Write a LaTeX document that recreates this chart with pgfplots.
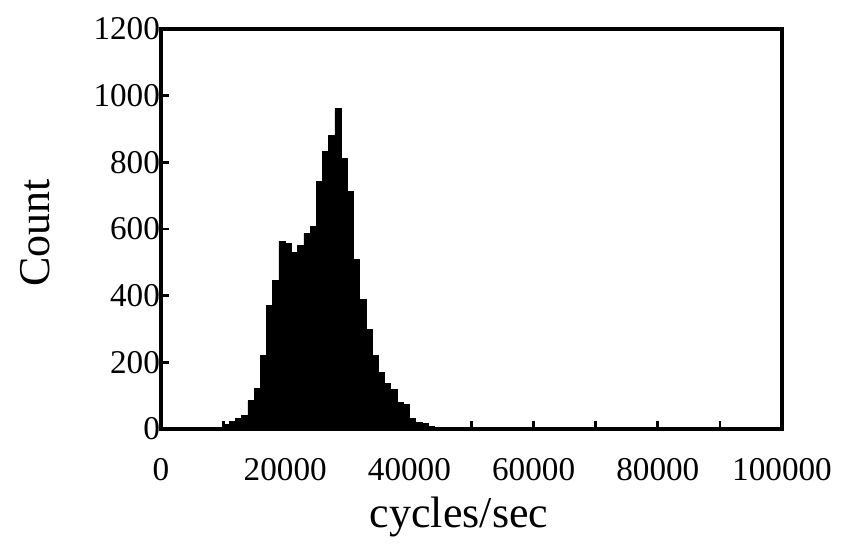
\documentclass[border=0pt]{standalone}
\usepackage{pgfplots}
\pgfplotsset{compat=1.18}
\usepackage{fontspec}
\setmainfont{Liberation Serif}

\begin{document}
\begin{tikzpicture}
  \begin{axis}[
    scale only axis,
    width=310.5pt, height=200pt,
    xmin=0, xmax=100000,
    ymin=0, ymax=1200,
    xtick={0,20000,40000,60000,80000,100000},
    xticklabels={0,20000,40000,60000,80000,100000},
    minor xtick={10000,30000,50000,70000,90000},
    ytick={0,200,400,600,800,1000,1200},
    yticklabels={0,200,400,600,800,1000,1200},
    scaled x ticks=false, scaled y ticks=false,
    xtick pos=bottom, ytick pos=left,
    tick align=inside,
    major tick length=4pt, minor tick length=4pt,
    ticklabel style={font=\fontsize{16.6}{18}\selectfont},
    xticklabel style={yshift=-11pt},
    yticklabel style={xshift=3pt},
    every tick/.style={black, line width=1.4pt},
    axis line style={line width=1.6pt},
    axis on top,
    xlabel={cycles/sec},
    ylabel={Count},
    label style={font=\fontsize{22}{24}\selectfont},
    xlabel style={at={(axis description cs:0.48,0)}, anchor=north, inner sep=0pt, yshift=-34pt},
    ylabel style={at={(axis description cs:0,0.49)}, anchor=center, yshift=63pt},
  ]
    % histogram, bins of 1000 cycles/sec
    \addplot[ybar interval, fill=black, draw=black, line width=0.3pt] coordinates {
      (10000,15) (11000,24) (12000,32) (13000,42) (14000,85)
      (15000,122) (16000,222) (17000,370) (18000,447) (19000,564)
      (20000,557) (21000,529) (22000,551) (23000,587) (24000,607)
      (25000,742) (26000,832) (27000,880) (28000,961) (29000,812)
      (30000,714) (31000,510) (32000,389) (33000,299) (34000,222)
      (35000,169) (36000,137) (37000,119) (38000,79) (39000,74)
      (40000,32) (41000,20) (42000,17) (43000,8) (44000,4)
      (45000,2) (46000,1) (47000,1)
    };
  \end{axis}
  \pgfresetboundingbox
  \useasboundingbox (current axis.south west) ++(-80.5pt,-57pt) rectangle ++(422pt,271.5pt);
\end{tikzpicture}
\end{document}
